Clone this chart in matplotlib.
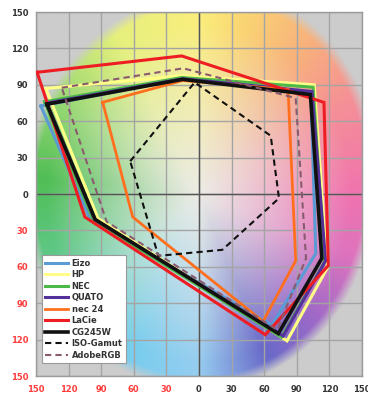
import numpy as np
import matplotlib
matplotlib.use('Agg')
import matplotlib.pyplot as plt

# ---------------------------------------------------------
# gamut outlines (a*, b*)
# ---------------------------------------------------------
NAMES = ["Eizo", "HP", "NEC", "QUATO", "nec 24", "LaCie", "CG245W", "ISO-Gamut", "AdobeRGB"]

EIZO_A = [-145.5, -15, 103, 107.5, 67, -100]
EIZO_B = [72.5, 95, 83, -49, -108, -21]
HP_A = [-141, -16, 106, 118, 81, -93]
HP_B = [87, 97.5, 90, -61, -121, -20]
NEC_A = [-142, -16, 105, 115.5, 76, -97]
NEC_B = [76, 96, 88, -56, -118, -22]
QUATO_A = [-140, -15, 104, 116.5, 77.5, -96]
QUATO_B = [75, 95, 84.5, -55, -117, -21]
NEC24_A = [-88.6, -15, 82, 89, 59, -61]
NEC24_B = [75.6, 93.5, 86, -55, -105, -19]
LACIE_A = [-149, -16, 115, 119, 61, -105]
LACIE_B = [100.3, 113.8, 75.5, -59, -116, -19]
CG_A = [-140, -15, 102.5, 113, 73, -95.5]
CG_B = [74, 94.5, 82, -53, -115, -21]
ISO_A = [-63.3, -4, 66, 73.6, 21.5, -37.4]
ISO_B = [27, 92, 48, -3.5, -46, -51]
ADOBE_A = [-126.3, -14.4, 89, 98.5, 72, -85]
ADOBE_B = [87.6, 103.6, 79, -53, -112, -22.8]

SERIES_A = [EIZO_A, HP_A, NEC_A, QUATO_A, NEC24_A, LACIE_A, CG_A, ISO_A, ADOBE_A]
SERIES_B = [EIZO_B, HP_B, NEC_B, QUATO_B, NEC24_B, LACIE_B, CG_B, ISO_B, ADOBE_B]

COLORS = ["#5b9bd5", "#ffff88", "#4cb848", "#54309a", "#ff6f1e", "#ee1d23", "#111111", "#111111", "#8a5a6e"]
STYLES = ["-", "-", "-", "-", "-", "-", "-", (0, (3, 2)), (0, (3, 2))]
WIDTHS = [2.2, 2.2, 2.2, 2.2, 2.0, 2.2, 2.6, 1.5, 1.5]

TICKS = [-150, -120, -90, -60, -30, 0, 30, 60, 90, 120, 150]

# hue wheel stops for the background (angle in degrees, rgb)
HUE_ANG = [0, 30, 50, 75, 90, 120, 150, 175, 200, 225, 245, 270, 295, 315, 340, 360]
HUE_RGB = [(240, 115, 175), (245, 145, 150), (248, 175, 125), (250, 215, 115),
           (250, 238, 125), (230, 240, 125), (150, 215, 115), (80, 190, 85),
           (95, 200, 135), (115, 210, 205), (120, 205, 238), (150, 205, 240),
           (105, 105, 200), (155, 105, 200), (222, 115, 190), (240, 115, 175)]


def background():
    n = 500
    xs = np.linspace(-150, 150, n)
    X, Y = np.meshgrid(xs, xs[::-1])
    r = np.hypot(X, Y)
    ang = np.degrees(np.arctan2(Y, X)) % 360
    rgb = np.array(HUE_RGB, dtype=float)
    hue = np.stack([np.interp(ang, HUE_ANG, rgb[:, k]) for k in range(3)], axis=-1)
    centre = np.array([236, 235, 230.0])
    f = np.clip(r / 140.0, 0, 1) ** 1.1
    col = centre + (hue - centre) * f[..., None]
    R = 156 + 14 * np.clip(np.cos(np.radians(ang - 55)), 0, 1) ** 3
    g = np.clip((R - r) / 10 + 0.5, 0, 1)
    grey = np.array([204, 204, 204.0])
    img = grey + (col - grey) * g[..., None]
    return img / 255.0


fig = plt.figure(figsize=(3.68, 3.95), dpi=100)
ax = fig.add_axes([36 / 368, 19 / 395, 326 / 368, 364 / 395])

ax.imshow(background(), extent=(-150, 150, -150, 150), aspect='auto', zorder=0,
          interpolation='bilinear')
ax.set_axisbelow(True)
ax.grid(True, color='#a4a4a4', linewidth=1.0)
ax.axhline(0, color='#555555', linewidth=1.0, zorder=0.7)
ax.axvline(0, color='#555555', linewidth=1.0, zorder=0.7)

for a, b, name, c, ls, lw in zip(SERIES_A, SERIES_B, NAMES, COLORS, STYLES, WIDTHS):
    ax.plot(a + a[:1], b + b[:1], color=c, linestyle=ls, linewidth=lw, label=name,
            solid_joinstyle='miter', zorder=3)

ax.set_xlim(-150, 150)
ax.set_ylim(-150, 150)
ax.set_xticks(TICKS)
ax.set_yticks(TICKS)
ax.set_xticklabels([str(abs(t)) for t in TICKS])
ax.set_yticklabels([str(abs(t)) for t in TICKS])
ax.tick_params(axis='x', length=0, pad=6.5, labelsize=6)
ax.tick_params(axis='y', length=0, pad=5.5, labelsize=6)
for lab, t in zip(ax.get_xticklabels(), TICKS):
    lab.set_fontweight('bold')
    lab.set_color('#ff3b3b' if t < 0 else '#333333')
for lab, t in zip(ax.get_yticklabels(), TICKS):
    lab.set_fontweight('bold')
    lab.set_color('#ff3b3b' if t < 0 else '#333333')

for s in ax.spines.values():
    s.set_color('#9a9a9a')
    s.set_linewidth(1.0)

leg = ax.legend(loc='lower left', bbox_to_anchor=(0.0175, 0.035), borderaxespad=0,
                prop={'size': 6, 'weight': 'bold'}, handlelength=2.7, handletextpad=0.45,
                labelspacing=0.3, borderpad=0.45, fancybox=False, framealpha=1,
                edgecolor='#9a9a9a')
leg.get_frame().set_linewidth(0.8)
for t in leg.get_texts():
    t.set_color('#333333')

fig.savefig('out.png', dpi=100)
